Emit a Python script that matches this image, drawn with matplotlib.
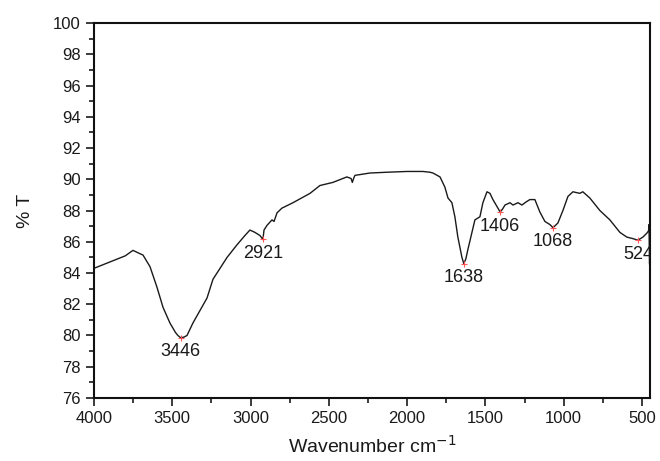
import matplotlib.pyplot as plt
from matplotlib.ticker import MultipleLocator

plt.rcParams['font.family'] = ['Liberation Sans', 'DejaVu Sans']

# FTIR spectrum, wavenumber (cm-1) vs transmittance (%)
wavenumber = [4000, 3900, 3800, 3751, 3720, 3687, 3642, 3598, 3559, 3515, 3480,
              3464, 3446, 3425, 3406, 3368, 3323, 3278, 3240, 3195, 3150, 3087,
              3036, 3004, 2972, 2940, 2921, 2914, 2895, 2863, 2850, 2831, 2800,
              2729, 2620, 2557, 2474, 2385, 2358, 2350, 2340, 2333, 2238, 2129,
              2001, 1899, 1854, 1835, 1790, 1759, 1739, 1714, 1695, 1676, 1650,
              1638, 1625, 1612, 1586, 1567, 1535, 1516, 1490, 1471, 1452, 1420,
              1406, 1390, 1375, 1343, 1324, 1292, 1267, 1240, 1216, 1184, 1152,
              1120, 1088, 1068, 1037, 1005, 973, 941, 920, 897, 878, 833, 769,
              705, 641, 597, 558, 526, 494, 469, 458, 455, 452]
transmittance = [84.3, 84.7, 85.1, 85.45, 85.3, 85.15, 84.4, 83.1, 81.8, 80.8, 80.2,
                 80.0, 79.85, 79.9, 80.0, 80.8, 81.6, 82.4, 83.6, 84.3, 85.0, 85.8,
                 86.4, 86.75, 86.6, 86.4, 86.15, 86.75, 87.05, 87.4, 87.3, 87.85, 88.15,
                 88.5, 89.1, 89.6, 89.8, 90.15, 90.05, 89.8, 90.1, 90.25, 90.4, 90.45,
                 90.5, 90.5, 90.45, 90.4, 90.15, 89.5, 88.8, 88.5, 87.6, 86.3, 85.0,
                 84.6, 84.9, 85.5, 86.6, 87.4, 87.6, 88.5, 89.2, 89.1, 88.7, 88.15,
                 87.9, 88.1, 88.35, 88.5, 88.35, 88.5, 88.35, 88.55, 88.7, 88.7, 87.9,
                 87.3, 87.1, 86.9, 87.2, 88.0, 88.9, 89.2, 89.15, 89.1, 89.2, 88.8, 88.0,
                 87.4, 86.6, 86.3, 86.2, 86.1, 86.3, 86.55, 86.7, 87.1, 84.6]

# labelled absorption bands
peak_wn = [3446, 2921, 1638, 1406, 1068, 524]
peak_t = [79.85, 86.15, 84.6, 87.9, 86.9, 86.1]
peak_labels = ['3446', '2921', '1638', '1406', '1068', '524']

fig = plt.figure(figsize=(6.6, 4.61), dpi=100)
ax = fig.add_axes([0.1424, 0.1367, 0.8424, 0.8133])

ax.plot(wavenumber, transmittance, color='#1a1a1a', lw=1.0)
ax.plot(peak_wn, peak_t, ls='None', marker='+', ms=5, mew=0.8, color='#ff5555')
for w, t, s in zip(peak_wn, peak_t, peak_labels):
    ax.annotate(s, (w, t), xytext=(0, -4), textcoords='offset points',
                ha='center', va='top', fontsize=13, color='#1a1a1a',
                annotation_clip=False, clip_on=True)

ax.set_xlim(4000, 449)
ax.set_ylim(76, 100)
ax.xaxis.set_major_locator(MultipleLocator(500))
ax.xaxis.set_minor_locator(MultipleLocator(250))
ax.yaxis.set_major_locator(MultipleLocator(2))
ax.yaxis.set_minor_locator(MultipleLocator(1))
ax.tick_params(which='both', direction='out', top=False, right=False,
               width=1.2, labelsize=12, colors='#1a1a1a')
ax.tick_params(which='major', length=6)
ax.tick_params(which='minor', length=3.5)
for sp in ax.spines.values():
    sp.set_linewidth(1.5)
    sp.set_color('#111111')

ax.set_xlabel('Wavenumber cm$^{-1}$', fontsize=14, labelpad=6, color='#1a1a1a')
ax.set_ylabel('% T', fontsize=14, labelpad=14, color='#1a1a1a')

fig.savefig('out.png', dpi=100)
